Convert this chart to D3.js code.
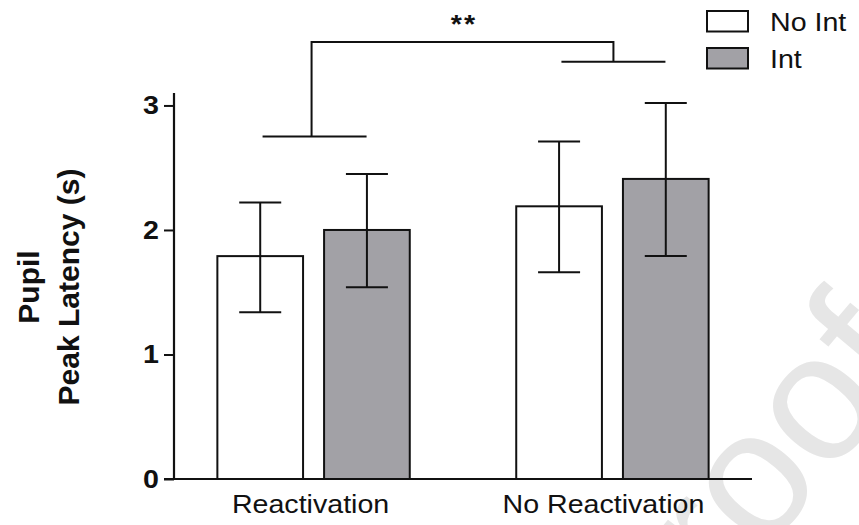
<!DOCTYPE html>
<html>
<head>
<meta charset="utf-8">
<script src="https://cdn.jsdelivr.net/npm/d3@7"></script>
<style>
  html, body { margin: 0; padding: 0; background: #fff; }
  svg { display: block; font-family: "Liberation Sans", Arial, Helvetica, sans-serif; }
</style>
</head>
<body>
<svg id="chart" width="859" height="525"></svg>
<script>
// ---- data ----
const groups = ["Reactivation", "No Reactivation"];
const series = ["No Int", "Int"];
const means = [[1.79, 2.00], [2.19, 2.41]];
const errLow = [[1.34, 1.54], [1.66, 1.79]];
const errHigh = [[2.22, 2.45], [2.71, 3.02]];
const yTicks = [0, 1, 2, 3];
const sigLabel = "**";
const sigLevels = { groupLine: 2.75, otherLine: 3.35, top: 3.51 };
const colors = ["#ffffff", "#a2a1a6"];
const watermark = "Journal Pre-proof";

// ---- scales ----
const svg = d3.select("#chart");
const y = d3.scaleLinear().domain([0, 3.1]).range([479, 93]);
const x0 = d3.scalePoint().domain(groups).range([174, 752]).padding(0.467);
const x1 = d3.scaleBand().domain(series).range([-96.2, 96.2]).paddingInner(0.197);
const sx = 1.1; // horizontal stretch of text

const ink = "#111";

// ---- watermark (behind everything) ----
svg.append("text")
  .attr("transform", "translate(923,364) rotate(-50)")
  .attr("text-anchor", "end")
  .attr("font-size", 180).attr("fill", "#e6e6e6")
  .text(watermark);

// ---- bars ----
groups.forEach((g, gi) => {
  series.forEach((s, si) => {
    const bx = x0(g) + x1(s);
    const bw = x1.bandwidth();
    svg.append("rect")
      .attr("x", bx).attr("y", y(means[gi][si]))
      .attr("width", bw).attr("height", y(0) - y(means[gi][si]))
      .attr("fill", colors[si]).attr("stroke", ink).attr("stroke-width", 2);
    const cx = bx + bw / 2;
    const cap = 21;
    const eg = svg.append("g").attr("stroke", ink).attr("stroke-width", 2);
    eg.append("line").attr("x1", cx).attr("x2", cx)
      .attr("y1", y(errLow[gi][si])).attr("y2", y(errHigh[gi][si]));
    eg.append("line").attr("x1", cx - cap).attr("x2", cx + cap)
      .attr("y1", y(errHigh[gi][si])).attr("y2", y(errHigh[gi][si]));
    eg.append("line").attr("x1", cx - cap).attr("x2", cx + cap)
      .attr("y1", y(errLow[gi][si])).attr("y2", y(errLow[gi][si]));
  });
});

// ---- y axis ----
const yAxis = d3.axisLeft(y).tickValues(yTicks).tickSize(10).tickFormat(d3.format("d"));
const ya = svg.append("g").attr("transform", "translate(174,0)").call(yAxis);
ya.select(".domain").attr("stroke", ink).attr("stroke-width", 2.2).attr("d", `M0,${y(3.1)}V${y(0)}`);
ya.selectAll(".tick line").attr("stroke", ink).attr("stroke-width", 2);
ya.selectAll(".tick text").remove();
yTicks.forEach(t => {
  svg.append("text")
    .attr("transform", `translate(159,${y(t) + 9}) scale(${sx},1)`)
    .attr("text-anchor", "end")
    .attr("font-size", 26).attr("font-weight", "bold").attr("fill", ink)
    .text(t);
});

// ---- x axis ----
svg.append("line").attr("x1", 164).attr("x2", 752).attr("y1", y(0)).attr("y2", y(0))
  .attr("stroke", ink).attr("stroke-width", 2.2);
groups.forEach((g, gi) => {
  svg.append("text")
    .attr("transform", `translate(${x0(g) - (gi === 0 ? 3 : 9)},513) scale(${sx},1)`)
    .attr("text-anchor", "middle")
    .attr("font-size", 26).attr("fill", ink)
    .text(g);
});

// ---- y title ----
const yt = svg.append("text")
  .attr("transform", "translate(0,287) rotate(-90)")
  .attr("text-anchor", "middle")
  .attr("font-size", 30).attr("font-weight", "bold").attr("fill", ink);
yt.append("tspan").attr("x", 0).attr("y", 39).text("Pupil");
yt.append("tspan").attr("x", 0).attr("y", 79).text("Peak Latency (s)");

// ---- significance bracket ----
const half = 52;
const gA = x0(groups[0]) + 1, gB = x0(groups[1]) + 1;
const br = svg.append("g").attr("stroke", ink).attr("stroke-width", 2).attr("fill", "none");
br.append("line").attr("x1", gA - half).attr("x2", gA + half)
  .attr("y1", y(sigLevels.groupLine)).attr("y2", y(sigLevels.groupLine));
br.append("line").attr("x1", gB - half).attr("x2", gB + half)
  .attr("y1", y(sigLevels.otherLine)).attr("y2", y(sigLevels.otherLine));
br.append("path")
  .attr("d", `M${gA - 3},${y(sigLevels.groupLine)}V${y(sigLevels.top)}H${gB}V${y(sigLevels.otherLine)}`);
svg.append("text")
  .attr("transform", `translate(${(gA + gB) / 2},33) scale(${sx},1)`)
  .attr("text-anchor", "middle").attr("font-size", 26).attr("font-weight", "bold")
  .attr("letter-spacing", 2).attr("fill", ink).text(sigLabel);

// ---- legend ----
series.forEach((s, si) => {
  const ly = 11 + si * 37;
  svg.append("rect").attr("x", 707).attr("y", ly).attr("width", 41).attr("height", 20.5)
    .attr("fill", colors[si]).attr("stroke", ink).attr("stroke-width", 2);
  svg.append("text")
    .attr("transform", `translate(770,${ly + 20}) scale(${sx},1)`)
    .attr("font-size", 26).attr("fill", ink).text(s);
});
</script>
</body>
</html>
